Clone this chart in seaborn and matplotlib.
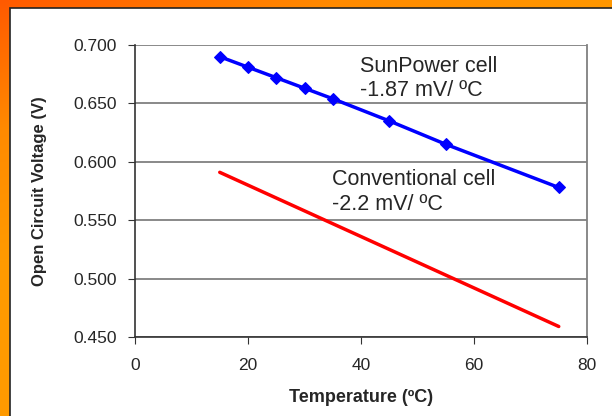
import numpy as np
import pandas as pd
import seaborn as sns
import matplotlib.pyplot as plt
from matplotlib.colors import LinearSegmentedColormap
from matplotlib.patches import Rectangle

# values
sunpower_temp = [15, 20, 25, 30, 35, 45, 55, 75]
sunpower_voc = [0.690, 0.681, 0.672, 0.663, 0.654, 0.635, 0.615, 0.578]
conv_temp = [15, 75]
conv_voc = [0.591, 0.459]
x_ticks = [0, 20, 40, 60, 80]
y_ticks = [0.450, 0.500, 0.550, 0.600, 0.650, 0.700]

sns.set_style("white")
plt.rcParams["font.family"] = ["Liberation Sans", "DejaVu Sans"]

fig = plt.figure(figsize=(6.12, 4.16), dpi=100)

# orange slide border with a diagonal gradient
bg = fig.add_axes([0, 0, 1, 1], zorder=-2)
gx, gy = np.meshgrid(np.linspace(0, 1, 200), np.linspace(0, 1, 200))
grad = np.clip(gx * 0.9 + gy * 1.6, 0, 1)
cmap = LinearSegmentedColormap.from_list("orange", ["#ff5a00", "#ff8a00", "#ff9a00"])
bg.imshow(grad, cmap=cmap, aspect="auto", extent=[0, 1, 0, 1], origin="upper")
bg.set_axis_off()
fig.patches.append(Rectangle((10 / 612, -0.1), 1.1, 1.1 - 8 / 416, transform=fig.transFigure,
                             facecolor="white", edgecolor="#222222", lw=1.2, zorder=-1))

ax = fig.add_axes([135 / 612, 1 - 337 / 416, (587 - 135) / 612, (337 - 45) / 416])
ax.set_facecolor("none")

sp = pd.DataFrame({"temp": sunpower_temp, "voc": sunpower_voc})
cv = pd.DataFrame({"temp": conv_temp, "voc": conv_voc})
sns.lineplot(data=sp, x="temp", y="voc", color="#0000ff", lw=2.5, marker="D",
             markersize=6.5, markeredgecolor="#0000ff", ax=ax, zorder=3)
sns.lineplot(data=cv, x="temp", y="voc", color="#ff0000", lw=2.5, ax=ax, zorder=3)

ax.set_xlim(0, 80)
ax.set_ylim(0.45, 0.70)
ax.set_xticks(x_ticks)
ax.set_yticks(y_ticks)
ax.set_yticklabels([f"{v:.3f}" for v in y_ticks])
ax.yaxis.grid(True, color="#808080", lw=1.3)
ax.tick_params(axis="both", labelsize=12.5, length=5, direction="out", color="#333333",
               left=True, bottom=True)
ax.tick_params(axis="x", pad=10)
ax.tick_params(axis="y", pad=8)
for side in ["left", "bottom"]:
    ax.spines[side].set_color("#333333")
    ax.spines[side].set_linewidth(1.2)
ax.spines["right"].set_color("#808080")
ax.spines["right"].set_linewidth(1.3)
ax.spines["top"].set_visible(False)

ax.set_xlabel("Temperature (ºC)", fontsize=13, fontweight="bold")
ax.set_ylabel("Open Circuit Voltage (V)", fontsize=12, fontweight="bold")
ax.xaxis.set_label_coords(0.5, -(398 - 337) / (337 - 45), transform=ax.transAxes)
ax.yaxis.set_label_coords(-(135 - 40) / (587 - 135), 0.5, transform=ax.transAxes)
ax.xaxis.label.set_va("center")
ax.yaxis.label.set_va("center")

ax.text(39.8, 0.6905, "SunPower cell\n-1.87 mV/ ºC", fontsize=15.5, va="top", ha="left",
        linespacing=1.2)
ax.text(34.9, 0.5935, "Conventional cell\n-2.2 mV/ ºC", fontsize=15.5, va="top", ha="left",
        linespacing=1.2)

fig.savefig("out.png", dpi=100)
